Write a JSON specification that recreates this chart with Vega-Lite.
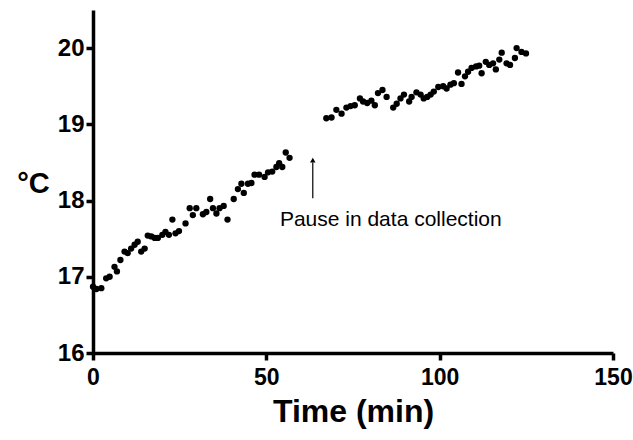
{
  "$schema": "https://vega.github.io/schema/vega-lite/v6.json",
  "width": 520,
  "height": 343,
  "autosize": {"type": "none"},
  "padding": {"left": 93, "top": 10, "right": 20, "bottom": 87},
  "background": "white",
  "config": {
    "view": {"stroke": null},
    "font": "Liberation Sans"
  },
  "datasets": {
    "temps": [
      {"t": 0, "c": 16.87}, {"t": 1, "c": 16.84}, {"t": 2.4, "c": 16.85}, {"t": 3.8, "c": 16.98},
      {"t": 4.8, "c": 17.0}, {"t": 6.2, "c": 17.13}, {"t": 6.9, "c": 17.07}, {"t": 7.9, "c": 17.22},
      {"t": 9.1, "c": 17.33}, {"t": 10.0, "c": 17.31}, {"t": 11.0, "c": 17.37}, {"t": 12.0, "c": 17.42},
      {"t": 12.9, "c": 17.46}, {"t": 13.9, "c": 17.33}, {"t": 14.9, "c": 17.37}, {"t": 15.8, "c": 17.54},
      {"t": 16.8, "c": 17.53}, {"t": 17.8, "c": 17.51}, {"t": 18.7, "c": 17.51}, {"t": 20.0, "c": 17.55},
      {"t": 20.9, "c": 17.59}, {"t": 21.9, "c": 17.55}, {"t": 22.9, "c": 17.75}, {"t": 23.8, "c": 17.57},
      {"t": 24.8, "c": 17.6}, {"t": 26.7, "c": 17.7}, {"t": 27.9, "c": 17.9}, {"t": 28.8, "c": 17.81},
      {"t": 29.8, "c": 17.9}, {"t": 31.7, "c": 17.82}, {"t": 32.7, "c": 17.85}, {"t": 33.8, "c": 18.02},
      {"t": 34.6, "c": 17.9}, {"t": 35.6, "c": 17.83}, {"t": 36.5, "c": 17.9}, {"t": 37.7, "c": 17.93},
      {"t": 38.8, "c": 17.75}, {"t": 40.6, "c": 18.02}, {"t": 41.8, "c": 18.15}, {"t": 42.8, "c": 18.22},
      {"t": 43.5, "c": 18.1}, {"t": 44.7, "c": 18.22}, {"t": 45.7, "c": 18.23}, {"t": 46.6, "c": 18.34},
      {"t": 47.9, "c": 18.34}, {"t": 49.5, "c": 18.31}, {"t": 50.5, "c": 18.37}, {"t": 51.7, "c": 18.38},
      {"t": 52.9, "c": 18.44}, {"t": 53.7, "c": 18.49}, {"t": 54.6, "c": 18.44}, {"t": 55.6, "c": 18.63},
      {"t": 56.7, "c": 18.56},
      {"t": 67.3, "c": 19.08}, {"t": 68.8, "c": 19.09}, {"t": 70.2, "c": 19.19}, {"t": 71.7, "c": 19.14},
      {"t": 73.1, "c": 19.22}, {"t": 74.3, "c": 19.24}, {"t": 75.5, "c": 19.25}, {"t": 77.0, "c": 19.34},
      {"t": 77.9, "c": 19.3}, {"t": 79.1, "c": 19.28}, {"t": 80.3, "c": 19.31}, {"t": 81.3, "c": 19.25},
      {"t": 82.2, "c": 19.41}, {"t": 83.5, "c": 19.45}, {"t": 84.7, "c": 19.36}, {"t": 86.6, "c": 19.22},
      {"t": 87.6, "c": 19.27}, {"t": 88.7, "c": 19.34}, {"t": 89.7, "c": 19.39}, {"t": 91.2, "c": 19.3},
      {"t": 91.9, "c": 19.36}, {"t": 93.3, "c": 19.42}, {"t": 94.5, "c": 19.39}, {"t": 95.4, "c": 19.34},
      {"t": 96.4, "c": 19.36}, {"t": 97.4, "c": 19.39}, {"t": 98.3, "c": 19.43}, {"t": 99.6, "c": 19.49},
      {"t": 101.0, "c": 19.5}, {"t": 102.0, "c": 19.47}, {"t": 103.1, "c": 19.52}, {"t": 104.1, "c": 19.54},
      {"t": 105.3, "c": 19.68}, {"t": 106.3, "c": 19.53}, {"t": 107.3, "c": 19.63}, {"t": 108.2, "c": 19.69},
      {"t": 109.2, "c": 19.74}, {"t": 110.5, "c": 19.76}, {"t": 111.4, "c": 19.77}, {"t": 112.1, "c": 19.67},
      {"t": 113.3, "c": 19.82}, {"t": 114.3, "c": 19.78}, {"t": 115.4, "c": 19.8}, {"t": 116.2, "c": 19.72},
      {"t": 117.2, "c": 19.85}, {"t": 117.9, "c": 19.94}, {"t": 119.3, "c": 19.8}, {"t": 120.3, "c": 19.78},
      {"t": 121.7, "c": 19.87}, {"t": 122.2, "c": 20.0}, {"t": 123.6, "c": 19.95}, {"t": 124.9, "c": 19.93}
    ],
    "arrow": [{"t": 63.4, "c0": 18.03, "c1": 18.5, "tip": 18.53}],
    "note": [{"t": 85.9, "c": 17.74, "label": "Pause in data collection"}]
  },
  "layer": [
    {
      "data": {"name": "temps"},
      "mark": {"type": "point", "filled": true, "color": "black", "opacity": 1, "size": 40},
      "encoding": {
        "x": {
          "field": "t", "type": "quantitative",
          "scale": {"domain": [0, 150], "nice": false, "zero": false},
          "axis": {
            "title": "Time (min)", "values": [0, 50, 100, 150], "format": "d", "grid": false,
            "domainColor": "black", "domainWidth": 3.5, "tickColor": "black", "tickWidth": 3.5, "tickSize": 7,
            "labelFont": "Liberation Sans", "labelFontWeight": "bold", "labelFontSize": 23, "labelColor": "black",
            "labelPadding": 6, "labelFlush": false,
            "titleFont": "Liberation Sans", "titleFontWeight": "bold", "titleFontSize": 32, "titleColor": "black",
            "titleY": 58, "titleBaseline": "middle"
          }
        },
        "y": {
          "field": "c", "type": "quantitative",
          "scale": {"domain": [16, 20.5], "nice": false, "zero": false},
          "axis": {
            "title": "°C", "values": [16, 17, 18, 19, 20], "format": "d", "grid": false,
            "domainColor": "black", "domainWidth": 3.5, "tickColor": "black", "tickWidth": 3.5, "tickSize": 7,
            "labelFont": "Liberation Sans", "labelFontWeight": "bold", "labelFontSize": 24, "labelColor": "black",
            "labelPadding": 2, "labelFlush": false,
            "titleFont": "Liberation Sans", "titleFontWeight": "bold", "titleFontSize": 29, "titleColor": "black",
            "titleAngle": 0, "titleX": -60, "titleY": 173, "titleAlign": "center", "titleBaseline": "middle"
          }
        }
      }
    },
    {
      "data": {"name": "arrow"},
      "mark": {"type": "rule", "color": "black", "strokeWidth": 1.2},
      "encoding": {
        "x": {"field": "t", "type": "quantitative"},
        "y": {"field": "c0", "type": "quantitative"},
        "y2": {"field": "c1"}
      }
    },
    {
      "data": {"name": "arrow"},
      "mark": {"type": "point", "shape": "triangle-up", "filled": true, "color": "black", "opacity": 1, "size": 30},
      "encoding": {
        "x": {"field": "t", "type": "quantitative"},
        "y": {"field": "tip", "type": "quantitative"}
      }
    },
    {
      "data": {"name": "note"},
      "mark": {"type": "text", "font": "Liberation Sans", "fontSize": 21, "color": "black", "align": "center", "baseline": "middle"},
      "encoding": {
        "x": {"field": "t", "type": "quantitative"},
        "y": {"field": "c", "type": "quantitative"},
        "text": {"field": "label"}
      }
    }
  ]
}
